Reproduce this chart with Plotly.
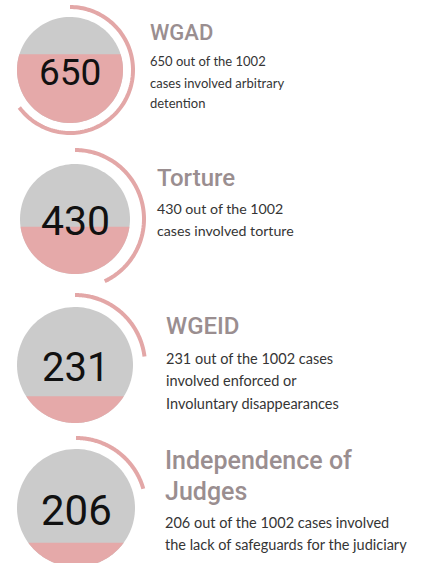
import numpy as np
import plotly.graph_objs as go

total_cases = 1002
categories = ["WGAD", "Torture", "WGEID", "Independence of\nJudges"]
case_counts = [650, 430, 231, 206]
descriptions = [
    ["650 out of the 1002", "cases involved arbitrary", "detention"],
    ["430 out of the 1002", "cases involved torture"],
    ["231 out of the 1002 cases", "involved enforced or", "Involuntary disappearances"],
    ["206 out of the 1002 cases involved", "the lack of safeguards for the judiciary"],
]

# Layout of each block (pixel space, y grows downward)
centers = [(70, 70), (75, 219), (75, 365), (76, 508)]
radii = [53, 55, 58, 59]
ring_gap = [10, 14, 12, 11]
number_sizes = [37, 41, 40, 42]
text_x = [148, 155, 164, 163]
title_base = [[40], [187], [335], [469, 500]]
title_sizes = [22, 24, 24, 25]
body_base = [[65, 87, 107], [213, 235], [363, 385, 408], [527, 549]]
body_sizes = [13, 14.2, 14.5, 14.5]

GREY = "#cbcbcb"
PINK = "#e5a9a9"
RING = "#e3a7a7"
TITLE = "#9a8e90"
BODY = "#353535"


def circle_path(cx, cy, r, n=120):
    t = np.linspace(0, 2 * np.pi, n)
    pts = ["%.2f,%.2f" % (cx + r * np.cos(a), cy + r * np.sin(a)) for a in t]
    return "M " + " L ".join(pts) + " Z"


def fill_path(cx, cy, r, share, n=120):
    # circular segment filled up from the bottom to share of the diameter
    y_top = cy + r - 2 * r * share
    s = np.clip((y_top - cy) / r, -1, 1)
    t0 = np.arcsin(s)
    t = np.linspace(t0, np.pi - t0, n)
    pts = ["%.2f,%.2f" % (cx + r * np.cos(a), cy + r * np.sin(a)) for a in t]
    return "M " + " L ".join(pts) + " Z"


def ring_path(cx, cy, R, share, n=120):
    # clockwise from 12 o'clock
    t = np.linspace(0, 2 * np.pi * share, n)
    pts = ["%.2f,%.2f" % (cx + R * np.sin(a), cy - R * np.cos(a)) for a in t]
    return "M " + " L ".join(pts)


shapes = []
annotations = []
for i, val in enumerate(case_counts):
    cx, cy = centers[i]
    r = radii[i]
    share = val / total_cases
    shapes.append(dict(type="path", path=circle_path(cx, cy, r), xref="x", yref="y",
                       fillcolor=GREY, line=dict(width=0), layer="below"))
    shapes.append(dict(type="path", path=fill_path(cx, cy, r, share), xref="x", yref="y",
                       fillcolor=PINK, line=dict(width=0), layer="below"))
    shapes.append(dict(type="path", path=ring_path(cx, cy, r + ring_gap[i], share),
                       xref="x", yref="y", line=dict(color=RING, width=4)))

    annotations.append(dict(x=cx, y=cy + 2, text=str(val), showarrow=False,
                            xanchor="center", yanchor="middle",
                            font=dict(family="Roboto", size=number_sizes[i], color="#111111")))

    for line, base in zip(categories[i].split("\n"), title_base[i]):
        annotations.append(dict(x=text_x[i], y=base - 0.36 * title_sizes[i], text=line,
                                showarrow=False, xanchor="left", yanchor="middle",
                                font=dict(family="Roboto", size=title_sizes[i],
                                          color=TITLE, weight=500)))

    for line, base in zip(descriptions[i], body_base[i]):
        annotations.append(dict(x=text_x[i], y=base - 0.33 * body_sizes[i], text=line,
                                showarrow=False, xanchor="left", yanchor="middle",
                                font=dict(family="Lato", size=body_sizes[i], color=BODY)))

# invisible trace so the axes exist
data = [go.Scatter(x=[0, 421], y=[0, 563], mode="markers", marker=dict(opacity=0),
                   hoverinfo="skip", showlegend=False)]

layout = go.Layout(width=421, height=563, margin=dict(l=0, r=0, t=0, b=0),
                   paper_bgcolor="white", plot_bgcolor="white",
                   xaxis=dict(range=[0, 421], visible=False, fixedrange=True),
                   yaxis=dict(range=[563, 0], visible=False, fixedrange=True),
                   shapes=shapes, annotations=annotations, showlegend=False)

fig = go.Figure(data=data, layout=layout)
fig.write_html("out.html", config={"displayModeBar": False},
               post_script="document.body.style.margin='0';document.body.style.overflow='hidden';")
